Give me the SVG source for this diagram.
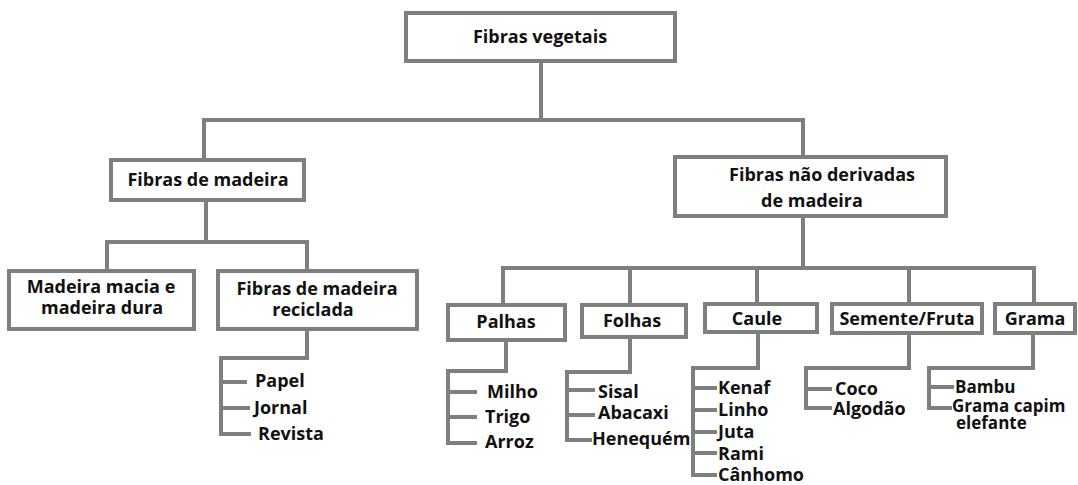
<svg xmlns="http://www.w3.org/2000/svg" width="1078" height="485" viewBox="0 0 1078 485">
<style>
.box{fill:#fff;stroke:#7f7f7f;stroke-width:4}
.ln{fill:none;stroke:#7f7f7f;stroke-width:4;stroke-linejoin:miter;stroke-linecap:butt}
text{font-family:"Open Sans","DejaVu Sans",sans-serif;font-weight:bold;font-size:18px;fill:#111}
.c{text-anchor:middle}
.s{font-size:17px}
</style>
<rect width="1078" height="485" fill="#fff"/>
<g id="connectors">
<path class="ln" d="M541,61V120M204,160V120H803V157"/>
<path class="ln" d="M206,200V242M107,271V242H307V271"/>
<path class="ln" d="M307,329V358H221V434H251M221,382H247M221,408H250"/>
<path class="ln" d="M803,216V268M503,305V268H1034V304M630,268V305M757,268V304M909,268V304"/>
<path class="ln" d="M506,340V371H448V443H477M448,392H477M448,417H477"/>
<path class="ln" d="M630,337V372H567V440H592M567,390H595M567,415H595"/>
<path class="ln" d="M758,332V368H693V475H717M693,388H717M693,410H717M693,432H717M693,453H717"/>
<path class="ln" d="M909,333V368H806V408H832M806,389H832"/>
<path class="ln" d="M1033,333V368H929V408H952M929,387H954"/>
</g>
<g id="n-root"><rect class="box" x="406" y="13" width="269" height="48"/><text class="c" x="540" y="43">Fibras vegetais</text></g>
<g id="n-madeira"><rect class="box" x="111" y="160" width="193" height="40"/><text class="c" x="208" y="186">Fibras de madeira</text></g>
<g id="n-nao"><rect class="box" x="675" y="157" width="271" height="59"/><text class="c" x="822" y="181">Fibras não derivadas</text><text class="c" x="812" y="207">de madeira</text></g>
<g id="n-macia"><rect class="box" x="9" y="271" width="185" height="58"/><text class="c" x="101" y="293">Madeira macia e</text><text class="c" x="102" y="314">madeira dura</text></g>
<g id="n-reciclada"><rect class="box" x="218" y="271" width="199" height="58"/><text class="c" x="317" y="295">Fibras de madeira</text><text class="c" x="313" y="316">reciclada</text></g>
<g id="n-reciclada-items"><text x="255" y="387">Papel</text><text x="254" y="414">Jornal</text><text x="258" y="440">Revista</text></g>
<g id="n-palhas"><rect class="box" x="448" y="305" width="117" height="35"/><text class="c" x="506" y="328">Palhas</text></g>
<g id="n-palhas-items"><text x="487" y="398">Milho</text><text x="485" y="423">Trigo</text><text x="485" y="448">Arroz</text></g>
<g id="n-folhas"><rect class="box" x="582" y="305" width="104" height="32"/><text class="c" x="632" y="327">Folhas</text></g>
<g id="n-folhas-items"><text x="598" y="398">Sisal</text><text x="598" y="419">Abacaxi</text><text x="592" y="445">Henequém</text></g>
<g id="n-caule"><rect class="box" x="705" y="304" width="112" height="28"/><text class="c" x="757" y="325">Caule</text></g>
<g id="n-caule-items"><text x="718" y="394">Kenaf</text><text x="718" y="416">Linho</text><text x="718" y="438">Juta</text><text x="718" y="460">Rami</text><text x="718" y="481">Cânhomo</text></g>
<g id="n-semente"><rect class="box" x="832" y="304" width="150" height="29"/><text class="c" x="907" y="325">Semente/Fruta</text></g>
<g id="n-semente-items"><text x="835" y="395">Coco</text><text x="833" y="415">Algodão</text></g>
<g id="n-grama"><rect class="box" x="995" y="304" width="80" height="29"/><text class="c" x="1035" y="325">Grama</text></g>
<g id="n-grama-items"><text class="s" x="955" y="393">Bambu</text><text class="s" x="952" y="412">Grama capim</text><text class="s" x="956" y="429">elefante</text></g>
</svg>
